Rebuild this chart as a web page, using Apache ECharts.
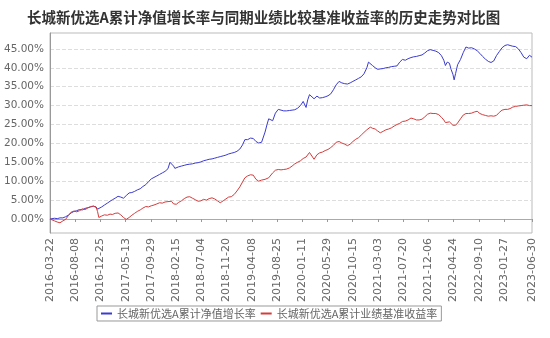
<!DOCTYPE html>
<html>
<head>
<meta charset="utf-8">
<script src="https://cdn.jsdelivr.net/npm/echarts@6/dist/echarts.min.js"></script>
<style>html,body{margin:0;padding:0;background:#fff;}#c{width:550px;height:338px;}</style>
</head>
<body>
<div id="c"></div>
<script>
const titleText = '长城新优选A累计净值增长率与同期业绩比较基准收益率的历史走势对比图';
const seriesNames = ['长城新优选A累计净值增长率', '长城新优选A累计业绩基准收益率'];
const startDate = '2016-03-22';
const endDate = '2023-06-30';
const tickStepDays = 139;
const yTicks = [0, 5, 10, 15, 20, 25, 30, 35, 40, 45];

const dates = [
'2016-03-22','2016-04-01','2016-04-16','2016-05-01','2016-05-16','2016-06-01','2016-06-16','2016-07-01','2016-07-16','2016-08-01',
'2016-08-16','2016-09-01','2016-09-16','2016-10-01','2016-10-16','2016-11-01','2016-11-16','2016-12-01','2016-12-09','2016-12-16',
'2017-01-01','2017-01-16','2017-02-01','2017-02-16','2017-03-01','2017-03-16','2017-04-01','2017-04-16','2017-05-01','2017-05-16',
'2017-06-01','2017-06-16','2017-07-01','2017-07-16','2017-08-01','2017-08-16','2017-09-01','2017-09-16','2017-10-01','2017-10-16',
'2017-11-01','2017-11-16','2017-12-01','2017-12-16','2018-01-01','2018-01-12','2018-01-20','2018-02-01','2018-02-08','2018-02-16',
'2018-03-01','2018-03-16','2018-04-01','2018-04-16','2018-05-01','2018-05-16','2018-06-01','2018-06-16','2018-07-01','2018-07-16',
'2018-08-01','2018-08-16','2018-09-01','2018-09-16','2018-10-01','2018-10-16','2018-11-01','2018-11-16','2018-12-01','2018-12-16',
'2019-01-01','2019-01-16','2019-02-01','2019-02-16','2019-03-01','2019-03-16','2019-04-01','2019-04-16','2019-05-01','2019-05-16',
'2019-06-01','2019-06-10','2019-06-20','2019-07-01','2019-07-10','2019-07-20','2019-08-01','2019-08-16','2019-09-01','2019-09-16',
'2019-10-01','2019-10-16','2019-11-01','2019-11-16','2019-12-01','2019-12-16','2020-01-01','2020-01-16','2020-02-01','2020-02-10',
'2020-02-20','2020-03-01','2020-03-16','2020-04-01','2020-04-16','2020-05-01','2020-05-16','2020-06-01','2020-06-16','2020-07-01',
'2020-07-16','2020-08-01','2020-08-16','2020-09-01','2020-09-16','2020-10-01','2020-10-16','2020-11-01','2020-11-16','2020-12-01',
'2020-12-16','2021-01-01','2021-01-10','2021-01-20','2021-02-01','2021-02-16','2021-03-01','2021-03-16','2021-04-01','2021-04-16',
'2021-05-01','2021-05-16','2021-06-01','2021-06-16','2021-07-01','2021-07-16','2021-08-01','2021-08-16','2021-09-01','2021-09-16',
'2021-10-01','2021-10-16','2021-11-01','2021-11-16','2021-12-01','2021-12-16','2022-01-01','2022-01-16','2022-02-01','2022-02-16',
'2022-03-01','2022-03-10','2022-03-20','2022-04-01','2022-04-10','2022-04-20','2022-04-27','2022-05-05','2022-05-16','2022-06-01',
'2022-06-16','2022-07-01','2022-07-16','2022-08-01','2022-08-16','2022-09-01','2022-09-16','2022-10-01','2022-10-16','2022-11-01',
'2022-11-16','2022-12-01','2022-12-16','2023-01-01','2023-01-16','2023-02-01','2023-02-16','2023-03-01','2023-03-16','2023-04-01',
'2023-04-16','2023-05-01','2023-05-16','2023-06-01','2023-06-16','2023-06-30'
];

const navGrowth = [
0.0,0.0,0.2,0.1,0.3,0.3,0.6,1.0,1.6,2.0,
2.2,2.5,2.4,2.8,3.0,3.2,3.4,3.2,2.6,2.5,
3.2,3.7,4.2,4.7,5.1,5.5,6.0,5.8,5.5,6.2,
6.9,7.0,7.3,7.7,8.0,8.6,9.1,9.9,10.6,11.0,
11.4,11.8,12.2,12.6,13.3,15.0,15.2,14.0,13.4,13.6,
13.8,14.0,14.2,14.4,14.5,14.6,14.8,14.9,15.1,15.4,
15.6,15.8,15.9,16.1,16.3,16.5,16.7,16.9,17.2,17.4,
17.6,17.9,18.5,19.6,21.0,21.0,21.4,21.3,20.5,20.1,
20.3,20.2,23.0,25.0,26.5,26.8,26.0,28.0,29.0,28.8,
28.6,28.6,28.7,28.8,28.9,29.3,30.0,31.1,29.5,31.5,
32.9,32.4,31.8,32.5,32.0,32.1,32.3,32.6,33.1,34.2,
35.5,36.4,36.0,35.8,35.7,36.0,36.4,36.8,37.2,37.6,
38.4,40.0,41.5,41.2,40.6,40.0,39.6,39.7,39.8,40.0,
40.1,40.3,40.4,40.5,41.5,42.2,42.0,42.4,42.7,42.9,
43.0,43.2,43.4,43.9,44.5,44.8,44.6,44.4,44.0,43.2,
42.0,40.6,41.5,41.2,39.6,38.3,36.8,38.5,40.8,42.2,
44.0,45.5,45.2,45.3,45.0,44.5,43.8,43.0,42.3,41.7,
41.4,41.8,43.2,44.3,45.3,45.9,46.1,45.9,45.7,45.6,
45.0,44.0,42.8,42.4,43.3,42.8
];

const benchmark = [
0.0,-0.2,-0.5,-0.8,-1.0,-0.5,-0.1,0.9,1.8,2.1,
1.9,2.2,2.7,2.5,2.9,3.3,3.4,3.1,2.0,0.4,
0.8,1.1,1.0,1.3,1.2,1.5,1.6,1.1,0.4,-0.1,
0.4,1.0,1.5,2.0,2.4,2.9,3.3,3.2,3.5,3.7,
4.0,4.3,4.2,4.5,4.6,4.8,4.7,4.0,3.6,3.9,
4.4,4.8,5.4,5.8,5.9,5.5,5.1,4.7,4.8,5.2,
5.0,5.4,5.6,5.3,4.8,4.3,4.8,5.3,5.8,5.9,
6.5,7.4,8.5,9.8,10.9,11.4,11.7,11.6,10.5,10.0,
10.3,10.4,10.5,10.7,10.9,11.3,12.2,12.9,13.1,13.0,
13.1,13.2,13.5,14.0,14.6,15.0,15.4,16.0,16.4,16.9,
17.6,17.9,15.8,17.0,17.5,17.7,18.1,18.4,18.9,19.5,
20.3,20.5,20.1,19.8,19.4,19.8,20.5,21.1,21.5,22.2,
22.9,23.6,24.1,24.3,24.0,23.8,23.3,22.8,23.2,23.6,
23.8,24.1,24.6,25.0,25.3,25.8,25.9,26.2,26.7,26.5,
26.2,26.2,26.4,27.0,27.7,28.0,27.9,27.9,27.6,26.9,
26.2,25.5,25.4,25.7,25.6,24.8,24.3,24.8,25.4,26.5,
27.5,27.9,27.9,28.0,28.3,28.5,27.9,27.6,27.4,27.2,
27.3,27.2,27.4,28.2,28.8,29.0,29.0,29.2,29.6,29.8,
29.9,30.0,30.1,30.2,30.0,30.0
];

const DAY = 86400000;
const t0 = Date.parse(startDate);
const dayIndex = s => Math.round((Date.parse(s) - t0) / DAY);
const totalDays = dayIndex(endDate);
const pad = n => (n < 10 ? '0' : '') + n;
const fmtDate = v => {
  const d = new Date(t0 + Math.round(v) * DAY);
  return d.getUTCFullYear() + '-' + pad(d.getUTCMonth() + 1) + '-' + pad(d.getUTCDate());
};
const toPairs = arr => dates.map((d, i) => [dayIndex(d), arr[i]]);

const chart = echarts.init(document.getElementById('c'), null, {renderer: 'canvas'});
chart.setOption({
  animation: false,
  backgroundColor: '#ffffff',
  title: {
    text: titleText,
    left: 22,
    top: 5,
    textStyle: {fontFamily: 'Noto Sans CJK SC', fontSize: 14.5, fontWeight: 'bold', color: '#333'}
  },
  legend: {
    left: 97,
    top: 306,
    padding: [2, 4, 2, 4],
    itemGap: 5,
    itemWidth: 11,
    itemHeight: 2,
    icon: 'rect',
    borderColor: '#999',
    borderWidth: 1,
    textStyle: {fontFamily: 'Noto Sans CJK SC', fontSize: 11, color: '#666'},
    data: seriesNames
  },
  grid: {
    left: 50, right: 18, top: 33, bottom: 105,
    show: true, borderColor: '#bbb', borderWidth: 1, containLabel: false
  },
  xAxis: {
    type: 'value',
    min: 0,
    max: totalDays,
    interval: tickStepDays,
    axisLine: {show: true, lineStyle: {color: '#aaa'}},
    axisTick: {show: true, length: 3, lineStyle: {color: '#999'}},
    splitLine: {show: false},
    axisLabel: {
      rotate: 90, margin: 5, fontFamily: 'DejaVu Sans', fontSize: 11, color: '#666',
      showMinLabel: true, showMaxLabel: true,
      formatter: v => fmtDate(v)
    }
  },
  yAxis: {
    type: 'value',
    min: -3.7,
    max: 49.2,
    axisLine: {show: true, lineStyle: {color: '#999'}},
    axisTick: {show: false, customValues: yTicks},
    splitLine: {show: true, customValues: yTicks, lineStyle: {color: '#ddd', type: 'dashed'}},
    axisLabel: {
      margin: 6, fontFamily: 'DejaVu Sans', fontSize: 10.5, color: '#666',
      customValues: yTicks,
      formatter: v => v.toFixed(2) + '%'
    }
  },
  series: [
    {
      name: seriesNames[0], type: 'line', data: toPairs(navGrowth),
      showSymbol: false, symbol: 'none', lineStyle: {width: 1, color: '#3b3bd0'}, itemStyle: {color: '#3b3bd0'}
    },
    {
      name: seriesNames[1], type: 'line', data: toPairs(benchmark),
      showSymbol: false, symbol: 'none', lineStyle: {width: 1, color: '#d43c3c'}, itemStyle: {color: '#d43c3c'}
    }
  ]
});
</script>
</body>
</html>
